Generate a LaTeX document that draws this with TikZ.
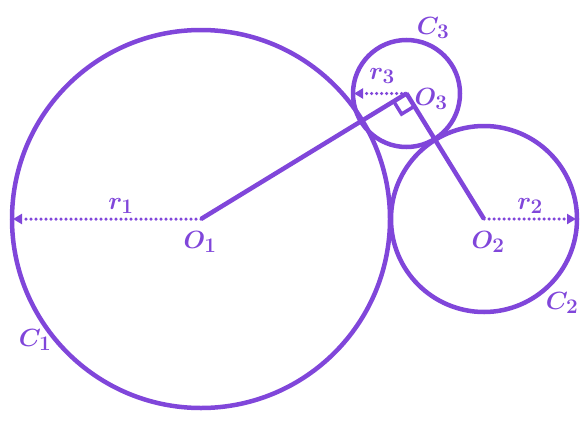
\documentclass[tikz,border=0pt]{standalone}
\usetikzlibrary{calc,arrows.meta}
\definecolor{pur}{RGB}{128,70,218}
\begin{document}
\begin{tikzpicture}[x=1pt,y=-1pt,
  circ/.style={draw=pur,line width=4.5pt},
  seg/.style={draw=pur,line width=4.5pt},
  rad/.style={draw=pur,line width=3.5pt,dash pattern=on 0pt off 5pt,line cap=round,-{Triangle[length=9pt,width=10pt]}},
  lab/.style={text=pur,font=\fontsize{29}{33}\selectfont\boldmath,inner sep=0pt}]
\useasboundingbox (0,0) rectangle (588,423);
\coordinate (O1) at (201,219);
\coordinate (O2) at (484,219);
\coordinate (O3) at (406.5,93.5);
\draw[circ] (O1) circle (189);
\draw[circ] (O2) circle (93);
\draw[circ] (O3) circle (53.5);
\draw[seg] (O1) -- (O3);
\draw[seg] (O2) -- (O3);
\draw[pur,line width=3.5pt,line join=miter]
  ($(O3)!15pt!(O1)$) -- ($($(O3)!15pt!(O1)$)+($(O3)!15pt!(O2)$)-(O3)$) -- ($(O3)!15pt!(O2)$);
\coordinate (E1) at (13,219);
\coordinate (E2) at (576,219);
\coordinate (E3) at (354,93.5);
\draw[rad] (O1) -- (E1);
\draw[rad] (O2) -- (E2);
\draw[rad] (O3) -- (E3);
\node[lab] (r1) at (121,206) {$r_1$};
\node[lab] (r2) at (530,206) {$r_2$};
\node[lab] (r3) at (382,76) {$r_3$};
\node[lab] (o1) at (200,242) {$O_1$};
\node[lab] (o2) at (488,242) {$O_2$};
\node[lab] (o3) at (431,99) {$O_3$};
\node[lab] (c1) at (35,340) {$C_1$};
\node[lab] (c2) at (562,303) {$C_2$};
\node[lab] (c3) at (433,28) {$C_3$};
\end{tikzpicture}
\end{document}
